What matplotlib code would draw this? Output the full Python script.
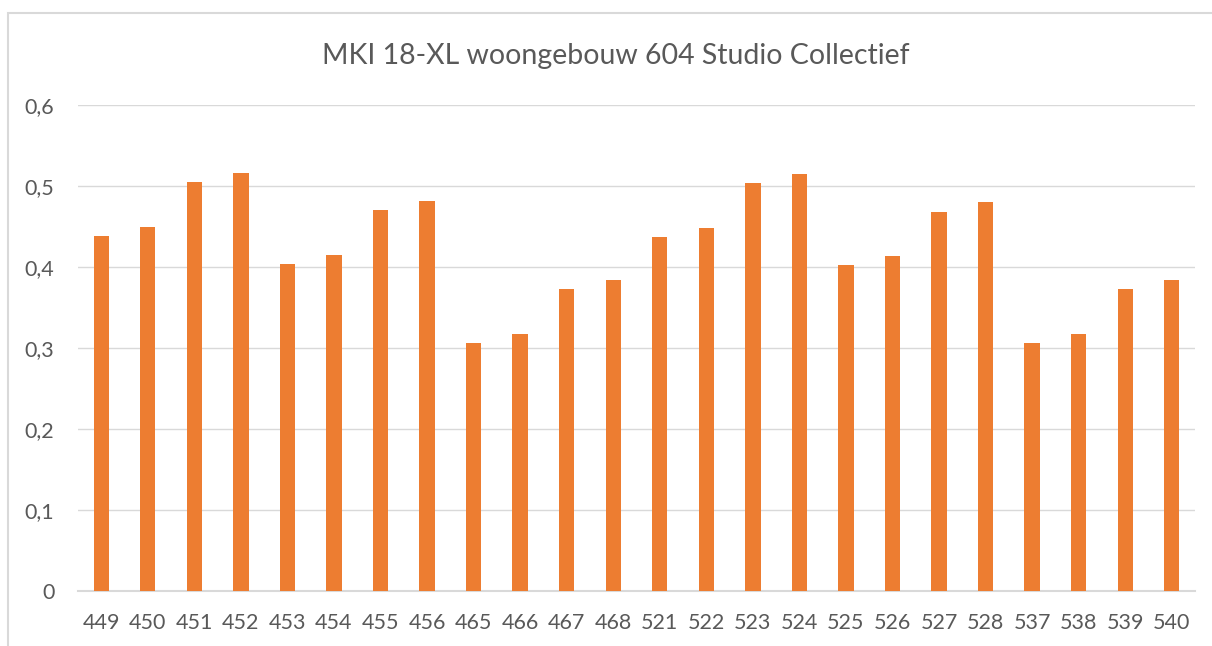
import matplotlib
matplotlib.use("Agg")
import matplotlib.pyplot as plt
from matplotlib.patches import Rectangle
from matplotlib.ticker import FuncFormatter

categories = ["449", "450", "451", "452", "453", "454", "455", "456",
              "465", "466", "467", "468", "521", "522", "523", "524",
              "525", "526", "527", "528", "537", "538", "539", "540"]
values = [0.438, 0.449, 0.505, 0.516, 0.404, 0.415, 0.470, 0.481,
          0.306, 0.317, 0.373, 0.384, 0.437, 0.448, 0.504, 0.515,
          0.402, 0.414, 0.468, 0.480, 0.306, 0.317, 0.373, 0.384]
title = "MKI 18-XL woongebouw 604 Studio Collectief"

W, H = 1212, 646
plt.rcParams["font.family"] = ["Lato", "DejaVu Sans"]
text_color = "#595959"
grid_color = "#D9D9D9"

fig = plt.figure(figsize=(W / 100, H / 100), dpi=100)
fig.patch.set_facecolor("white")

# chart area frame
fig.patches.append(Rectangle((8 / W, -0.05), 1.1, 1 - 13 / H + 0.05,
                             transform=fig.transFigure, fill=False,
                             edgecolor=grid_color, linewidth=1.5))

ax = fig.add_axes([78 / W, 1 - 591 / H, (1195 - 78) / W, (591 - 105) / H])
x = range(len(categories))
ax.bar(x, values, width=0.33, color="#ED7D31", zorder=3)

ax.set_xlim(-0.5, len(categories) - 0.5)
ax.set_ylim(0, 0.6)
ax.set_yticks([0, 0.1, 0.2, 0.3, 0.4, 0.5, 0.6])
ax.yaxis.set_major_formatter(FuncFormatter(
    lambda v, p: "0" if v == 0 else f"{v:.1f}".replace(".", ",")))
ax.set_xticks(list(x))
ax.set_xticklabels(categories)

ax.grid(axis="y", color=grid_color, linewidth=1.0, zorder=0)
for s in ["left", "right", "top"]:
    ax.spines[s].set_visible(False)
ax.spines["bottom"].set_color(grid_color)
ax.spines["bottom"].set_linewidth(1.5)
ax.tick_params(axis="both", length=0, labelsize=15.5, labelcolor=text_color)
ax.tick_params(axis="y", pad=17)
ax.tick_params(axis="x", pad=16)

fig.text(616 / W, 1 - 56 / H, title, ha="center", va="center",
         fontsize=20.5, color=text_color)

fig.savefig("out.png", dpi=100, facecolor="white")
